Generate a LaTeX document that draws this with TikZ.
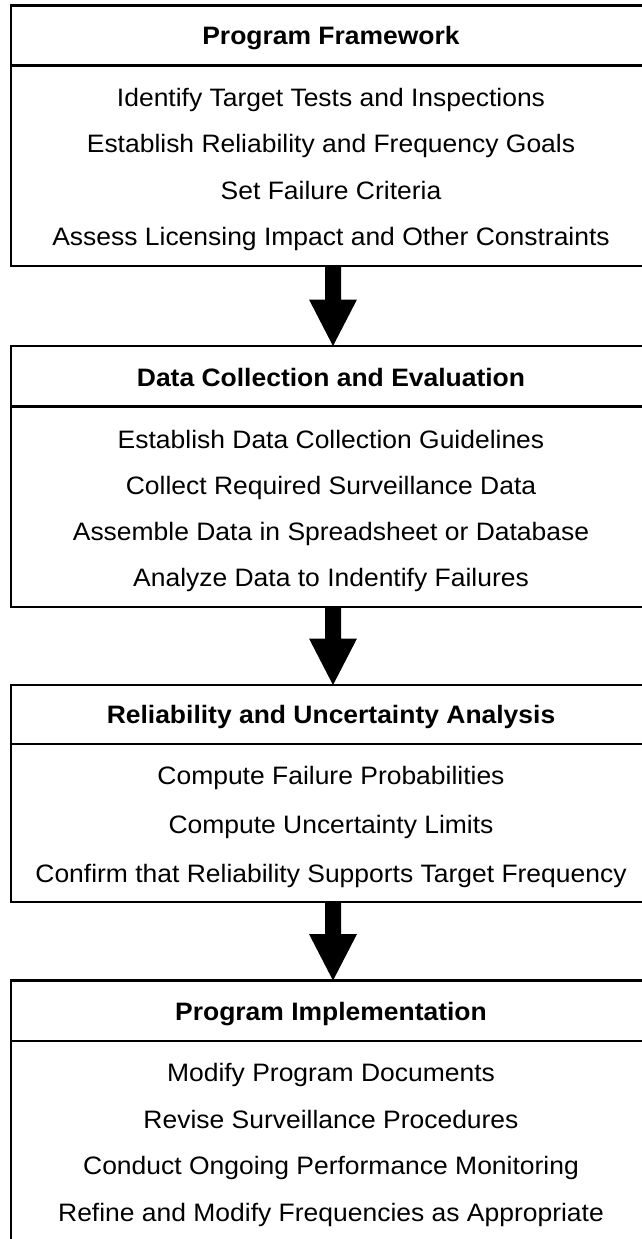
\documentclass[tikz,border=0pt]{standalone}
\usepackage{fontspec}
\setmainfont{Liberation Sans}[FakeStretch=1.05]
\usetikzlibrary{calc}
\tikzset{
  stage/.style={draw=black, line width=2.2pt, minimum width=644pt, anchor=north west,
                inner sep=0pt, outer sep=0pt},
  headtext/.style={font=\fontsize{25.2}{30}\selectfont\bfseries, anchor=base, inner sep=0pt},
  itemtext/.style={font=\fontsize{25.2}{30}\selectfont, anchor=base, inner sep=0pt},
  divider/.style={line width=2.2pt},
  blockarrow/.style={fill=black},
}
\begin{document}
\begin{tikzpicture}[x=1pt,y=-1pt]
\useasboundingbox (0,0) rectangle (642,1239);
\clip (0,0) rectangle (642,1239);

% stage frames
\node[stage, minimum height=260.2pt] (b1) at (11,5.5) {};
\node[stage, minimum height=261.2pt] (b2) at (11,346) {};
\node[stage, minimum height=217pt]   (b3) at (11,685) {};
\node[stage, minimum height=280pt]   (b4) at (11,980.5) {};

% header separators
\draw[divider] ($(b1.north west)+(0,60)$)   -- ($(b1.north east)+(0,60)$);
\draw[divider] ($(b2.north west)+(0,60.5)$) -- ($(b2.north east)+(0,60.5)$);
\draw[divider] ($(b3.north west)+(0,59)$)   -- ($(b3.north east)+(0,59)$);
\draw[divider] ($(b4.north west)+(0,60.5)$) -- ($(b4.north east)+(0,60.5)$);

% stage 1
\node[headtext] (h1) at (331,45) {Program Framework};
\node[itemtext] (t11) at (331,106) {Identify Target Tests and Inspections};
\node[itemtext] (t12) at (331,152.5) {Establish Reliability and Frequency Goals};
\node[itemtext] (t13) at (331,199) {Set Failure Criteria};
\node[itemtext] (t14) at (331,245.5) {Assess Licensing Impact and Other Constraints};

% stage 2
\node[headtext] (h2) at (331,386.5) {Data Collection and Evaluation};
\node[itemtext] (t21) at (331,448) {Establish Data Collection Guidelines};
\node[itemtext] (t22) at (331,494) {Collect Required Surveillance Data};
\node[itemtext] (t23) at (331,540) {Assemble Data in Spreadsheet or Database};
\node[itemtext] (t24) at (331,586.5) {Analyze Data to Indentify Failures};

% stage 3
\node[headtext] (h3) at (331,723.5) {Reliability and Uncertainty Analysis};
\node[itemtext] (t31) at (331,784.5) {Compute Failure Probabilities};
\node[itemtext] (t32) at (331,833) {Compute Uncertainty Limits};
\node[itemtext] (t33) at (331,882) {Confirm that Reliability Supports Target Frequency};

% stage 4
\node[headtext] (h4) at (331,1020) {Program Implementation};
\node[itemtext] (t41) at (331,1081.5) {Modify Program Documents};
\node[itemtext] (t42) at (331,1128) {Revise Surveillance Procedures};
\node[itemtext] (t43) at (331,1174.5) {Conduct Ongoing Performance Monitoring};
\node[itemtext] (t44) at (331,1221) {Refine and Modify Frequencies as Appropriate};

% block arrows between stages
\foreach \a/\b in {b1/b2, b2/b3, b3/b4}{
  \fill[blockarrow] ($(\a.south)+(-8,0)$) -- ($(\a.south)+(8,0)$)
    -- ($(\b.north)+(8,-46.5)$) -- ($(\b.north)+(24,-46.5)$) -- (\b.north)
    -- ($(\b.north)+(-24,-46.5)$) -- ($(\b.north)+(-8,-46.5)$) -- cycle;
}
\end{tikzpicture}
\end{document}
